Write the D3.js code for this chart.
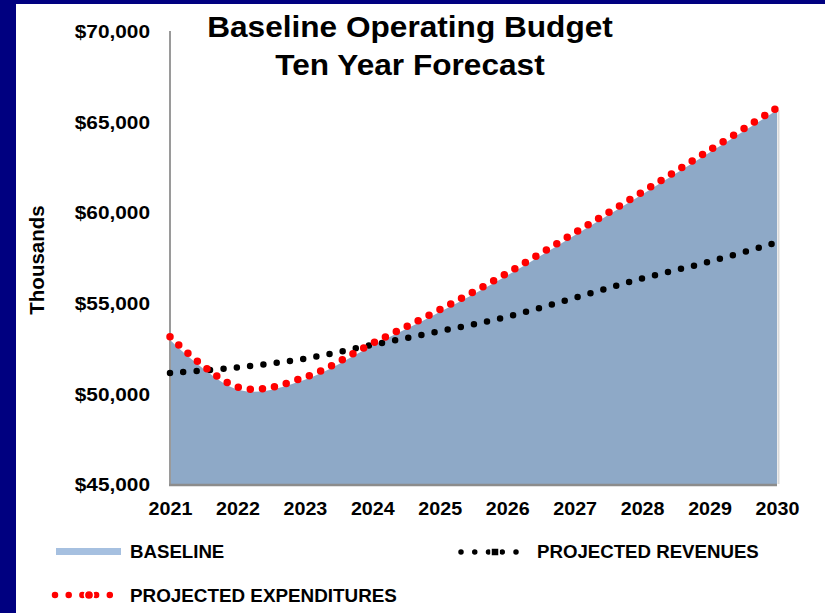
<!DOCTYPE html>
<html><head><meta charset="utf-8">
<script src="https://cdn.jsdelivr.net/npm/d3@7/dist/d3.min.js"></script>
<style>body{margin:0;padding:0;overflow:hidden;background:#fff}svg{display:block}text{font-family:"Liberation Sans",Arial,sans-serif;font-weight:bold;fill:#000}</style>
</head><body>
<script>
const years = [2021,2022,2023,2024,2025,2026,2027,2028,2029,2030];
const baseline = [52950,50220,50760,52630,54490,56510,58730,60980,63290,65620];
const revenues = [51130,51430,51920,52680,53430,54230,55270,56340,57270,58330];
const expenditures = [53120,50350,50890,52760,54620,56640,58860,61110,63420,65760];
const yTicks = [45000,50000,55000,60000,65000,70000];
const titleLines = ["Baseline Operating Budget","Ten Year Forecast"];
const yAxisTitle = "Thousands";
const legendLabels = ["BASELINE","PROJECTED REVENUES","PROJECTED EXPENDITURES"];

const W = 825, H = 613;
const svg = d3.select("body").append("svg").attr("width",W).attr("height",H);
svg.append("rect").attr("width",W).attr("height",H).attr("fill","#000080");
svg.append("rect").attr("x",16).attr("y",4).attr("width",W-16).attr("height",H-4).attr("fill","#fff");

const x = d3.scaleLinear().domain([2021,2030]).range([170,777]);
const y = d3.scaleLinear().domain([45000,70000]).range([484,31]);
const curve = d3.curveCatmullRom.alpha(0);

// area
const area = d3.area().x((d,i)=>x(years[i])).y0(y(45000)).y1(d=>y(d)).curve(curve);
svg.append("path").datum(baseline).attr("d",area).attr("fill","#8EA9C7");
// right edge light line
svg.append("line").attr("x1",x(2030)+1.5).attr("x2",x(2030)+1.5)
  .attr("y1",y(baseline[baseline.length-1])).attr("y2",y(45000))
  .attr("stroke","#d9d9d9").attr("stroke-width",2);

// axes lines
svg.append("line").attr("x1",x(2021)).attr("x2",x(2021)).attr("y1",y(70000)).attr("y2",y(45000))
  .attr("stroke","#9a9a9a").attr("stroke-width",2);
svg.append("line").attr("x1",x(2021)-1).attr("x2",x(2030)).attr("y1",y(45000)+1).attr("y2",y(45000)+1)
  .attr("stroke","#8c8c8c").attr("stroke-width",2.5);

// lines
const line = d3.line().x((d,i)=>x(years[i])).y(d=>y(d)).curve(curve);
svg.append("path").datum(revenues).attr("d",line).attr("fill","none")
  .attr("stroke","#000").attr("stroke-width",6.5).attr("stroke-linecap","round")
  .attr("stroke-dasharray","0 13.4");
svg.append("path").datum(expenditures).attr("d",line).attr("fill","none")
  .attr("stroke","#ff0000").attr("stroke-width",7.5).attr("stroke-linecap","round")
  .attr("stroke-dasharray","0 12.2");

// y axis labels
const yAxis = d3.axisLeft(y).tickValues(yTicks).tickSize(0).tickFormat(d3.format("$,"));
const gy = svg.append("g").attr("transform","translate(150,0)").call(yAxis);
gy.select(".domain").remove();
gy.selectAll("text").attr("x",null).attr("dy",null).attr("y",null)
  .attr("transform","translate(0,6.7) scale(1.12,1)")
  .style("font-size","18.6px").style("font-family","'Liberation Sans',Arial,sans-serif")
  .style("font-weight","bold").attr("fill","#000").attr("text-anchor","end");

// x axis labels
const xAxis = d3.axisBottom(x).tickValues(years).tickSize(0).tickFormat(d3.format("d"));
const gx = svg.append("g").attr("transform",`translate(0,${y(45000)})`).call(xAxis);
gx.select(".domain").remove();
gx.selectAll("text").attr("y",null).attr("dy",null)
  .attr("transform","translate(0,31) scale(1.06,1)")
  .style("font-size","18.6px").style("font-family","'Liberation Sans',Arial,sans-serif")
  .style("font-weight","bold").attr("fill","#000").attr("text-anchor","middle");

// title
titleLines.forEach((t,i)=>{
  svg.append("text").attr("transform",`translate(410,${[37.3,75][i]}) scale(1.09,1)`)
    .attr("text-anchor","middle").style("font-size","29px").text(t);
});
// y title
svg.append("text").attr("transform","translate(44,260) rotate(-90)")
  .attr("text-anchor","middle").style("font-size","20.5px").text(yAxisTitle);

// legend
svg.append("rect").attr("x",56).attr("y",548).attr("width",65).attr("height",7).attr("fill","#A6C0E0");
svg.append("text").attr("transform","translate(130,558) scale(1.02,1)").style("font-size","18.3px").text(legendLabels[0]);

svg.append("line").attr("x1",461).attr("x2",517).attr("y1",552).attr("y2",552)
  .attr("stroke","#000").attr("stroke-width",5.5).attr("stroke-linecap","round").attr("stroke-dasharray","0 13.75");
svg.append("rect").attr("x",491).attr("y",548).attr("width",8).attr("height",8).attr("fill","#000")
  .attr("stroke","#fff").attr("stroke-width",1.5);
svg.append("text").attr("transform","translate(537,558) scale(1.02,1)").style("font-size","18.3px").text(legendLabels[1]);

svg.append("line").attr("x1",55).attr("x2",110).attr("y1",595).attr("y2",595)
  .attr("stroke","#ff0000").attr("stroke-width",6.5).attr("stroke-linecap","round").attr("stroke-dasharray","0 13.7");
svg.append("circle").attr("cx",89).attr("cy",595).attr("r",4.6).attr("fill","#ff0000")
  .attr("stroke","#fff").attr("stroke-width",1.5);
svg.append("text").attr("transform","translate(130,601.7) scale(1.03,1)").style("font-size","18.3px").text(legendLabels[2]);
</script>
</body></html>
